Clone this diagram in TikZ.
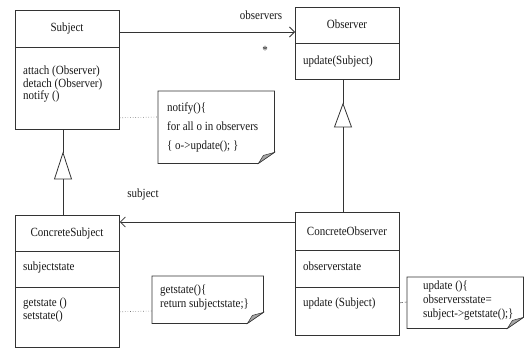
\documentclass[tikz,border=0pt]{standalone}
\usepackage{fontspec}
\setmainfont[FakeStretch=0.88]{Liberation Serif}
\usetikzlibrary{arrows.meta,calc}

% note outline with a folded lower-right corner
\newcommand\notefold[1]{%
  \draw[ink, line width=0.7pt] (#1.north west) -- (#1.north east)
    -- ($(#1.south east)+(0pt,11pt)$) -- ($(#1.south east)+(-16pt,0pt)$)
    -- (#1.south west) -- cycle;
  \draw[ink, line width=0.5pt, fill=black!35] ($(#1.south east)+(-16pt,0pt)$)
    -- ($(#1.south east)+(-11pt,8pt)$) -- ($(#1.south east)+(0pt,11pt)$) -- cycle;}

\begin{document}
\begin{tikzpicture}[x=1pt,y=-1pt,
  ink/.style={draw=black!80, line width=0.8pt},
  classbox/.style={ink, anchor=north west, inner sep=0pt, minimum width=104pt},
  notebox/.style={anchor=north west, inner sep=0pt},
  lbl/.style={font=\fontsize{12.5}{12.5}\selectfont, inner sep=0pt, text=black!90},
  members/.style={lbl, align=left, anchor=north west},
  notetext/.style={lbl, align=left, anchor=north west},
  link/.style={draw=black!55, line width=0.6pt, dotted},
  assoc/.style={ink, -{Straight Barb[length=5pt,width=10pt,line width=0.8pt]}},
]
\useasboundingbox[fill=white] (0,0) rectangle (524,348);

% ---- classes ----
\node[classbox, minimum height=119pt] (subj) at (15,10) {};
\draw[ink] (15,47) -- (119,47);
\node[lbl] (subjname) at (67,28) {Subject};
\node[members] (subjops) at (23,66) {attach (Observer)\\detach (Observer)\\notify ()};

\node[classbox, minimum height=72pt] (obs) at (295,7) {};
\draw[ink] (295,43) -- (399,43);
\node[lbl] (obsname) at (347,24) {Observer};
\node[members] (obsops) at (303,56) {update(Subject)};

\node[classbox, minimum height=132pt] (csubj) at (15,215) {};
\draw[ink] (15,251) -- (119,251);
\draw[ink] (15,287) -- (119,287);
\node[lbl] (csubjname) at (67,233) {ConcreteSubject};
\node[members] (csubjattr) at (23,262) {subjectstate};
\node[members] (csubjops) at (23,298) {getstate ()\\setstate()};

\node[classbox, minimum height=123pt] (cobs) at (295,212) {};
\draw[ink] (295,250) -- (399,250);
\draw[ink] (295,287) -- (399,287);
\node[lbl] (cobsname) at (347,231) {ConcreteObserver};
\node[members] (cobsattr) at (303,262) {observerstate};
\node[members] (cobsops) at (303,298) {update (Subject)};

% ---- notes ----
\node[notebox, minimum width=116pt, minimum height=72pt] (n1) at (158,91) {};
\notefold{n1}
\node[notetext, font=\fontsize{12.5}{19}\selectfont] (n1txt) at (167,102)
  {notify()\{\\for all o in observers\\\{ o->update(); \}};

\node[notebox, minimum width=111pt, minimum height=47pt] (n2) at (152,276) {};
\notefold{n2}
\node[notetext, font=\fontsize{12.5}{14}\selectfont] (n2txt) at (160,285)
  {getstate()\{\\return subjectstate;\}};

\node[notebox, minimum width=116pt, minimum height=51pt] (n3) at (407,277) {};
\notefold{n3}
\node[notetext, font=\fontsize{12.5}{14}\selectfont] (n3txt) at (423,281)
  {update ()\{\\observersstate=\\subject->getstate();\}};

% ---- associations ----
\draw[assoc] ($(subj.north east)+(0pt,-22pt)$) -- ($(obs.north west)+(0pt,-25pt)$);
\node[lbl] (obsrole) at (261,15) {observers};
\node[lbl] (mult) at (265,50) {*};

\draw[assoc] ($(cobs.north west)+(0pt,-10pt)$) -- ($(csubj.north east)+(0pt,-7pt)$);
\node[lbl] (subjrole) at (143,194) {subject};

% ---- generalisations ----
\coordinate (apex1) at ($(subj.south west)+(48pt,-23pt)$);
\coordinate (base1) at ($(csubj.north west)+(48pt,36pt)$);
\draw[ink] ($(subj.south west)+(48pt,0pt)$) -- (apex1);
\draw[ink, fill=white] (apex1) -- ($(base1)+(-8.5pt,0pt)$) -- ($(base1)+(8.5pt,0pt)$) -- cycle;
\draw[ink] (base1) -- ($(csubj.north west)+(48pt,0pt)$);

\coordinate (apex2) at ($(obs.south west)+(48pt,-24pt)$);
\coordinate (base2) at ($(cobs.north west)+(48pt,85pt)$);
\draw[ink] ($(obs.south west)+(48pt,0pt)$) -- (apex2);
\draw[ink, fill=white] (apex2) -- ($(base2)+(-8.5pt,0pt)$) -- ($(base2)+(8.5pt,0pt)$) -- cycle;
\draw[ink] (base2) -- ($(cobs.north west)+(48pt,0pt)$);

% ---- note attachments ----
\draw[link] ($(subj.south east)+(0pt,12pt)$) -- ($(n1.north west)+(0pt,-26pt)$);
\draw[link] ($(csubj.south east)+(0pt,36pt)$) -- ($(n2.north west)+(0pt,-35pt)$);
\draw[link, dash pattern=on 3pt off 2pt] ($(cobs.south east)+(0pt,33pt)$) -- ($(n3.north west)+(0pt,-25pt)$);
\end{tikzpicture}
\end{document}
